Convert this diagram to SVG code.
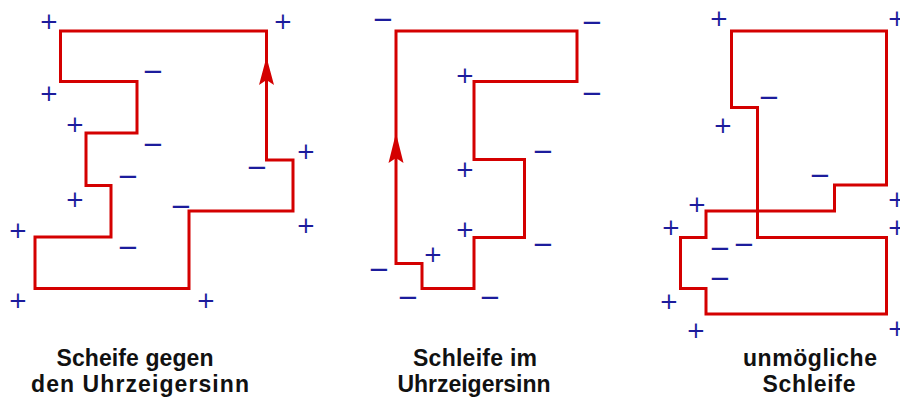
<svg xmlns="http://www.w3.org/2000/svg" width="900" height="399" viewBox="0 0 900 399">
<style>
.loop{fill:none;stroke:#d40000;stroke-width:3;stroke-linejoin:miter}
.arr{fill:#d40000;stroke:none}
.p,.m{fill:#1c1c9c;font-family:"DejaVu Sans",sans-serif;text-anchor:middle;dominant-baseline:central}
.p{font-size:23px}
.m{font-size:26px}
.cap{fill:#111;font-family:"Liberation Sans",Arial,sans-serif;font-weight:bold;font-size:23px;text-anchor:middle}
</style>
<rect width="900" height="399" fill="#fff"/>
<g id="loop1">
<path class="loop" d="M60.5,31 H266.5 V160 H293 V211 H189 V288.5 H35 V237 H111 V185.5 H86 V133 H137 V81.5 H60.5 Z"/>
<polygon class="arr" points="266.5,57 274,85 266.5,80 259,85"/>
<g class="p">
<text x="49" y="21">+</text><text x="283" y="21">+</text><text x="49" y="93">+</text><text x="75" y="124">+</text>
<text x="306" y="151">+</text><text x="75" y="199">+</text><text x="18" y="230">+</text><text x="306" y="225">+</text>
<text x="18" y="300">+</text><text x="206" y="300">+</text>
</g>
<g class="m">
<text x="153" y="71">−</text><text x="153" y="144">−</text><text x="128" y="176">−</text><text x="257" y="167">−</text>
<text x="181" y="206">−</text><text x="128" y="247">−</text>
</g>
<text class="cap" x="135" y="366" textLength="157">Scheife gegen</text>
<text class="cap" x="140" y="392" textLength="218">den Uhrzeigersinn</text>
</g>
<g id="loop2">
<path class="loop" d="M396,31 H577 V81.5 H474 V159.5 H524.5 V237.5 H474 V288.5 H422 V263.5 H396 Z"/>
<polygon class="arr" points="396,133 403.5,163 396,158 388.5,163"/>
<g class="m">
<text x="383" y="19">−</text><text x="592" y="22">−</text><text x="592" y="93">−</text><text x="543" y="151">−</text>
<text x="543" y="244">−</text><text x="379" y="269">−</text><text x="408" y="297">−</text><text x="490" y="297">−</text>
</g>
<g class="p">
<text x="465" y="75">+</text><text x="465" y="169">+</text><text x="465" y="229">+</text><text x="433" y="254">+</text>
</g>
<text class="cap" x="475" y="366" textLength="124">Schleife im</text>
<text class="cap" x="474" y="392" textLength="153">Uhrzeigersinn</text>
</g>
<g id="loop3">
<path class="loop" d="M731.5,31 H886.5 V185 H834.5 V211 H706 V237.5 H680.5 V288.5 H706 V314 H886.5 V237.5 H757.5 V107.5 H731.5 Z"/>
<g class="p">
<text x="719" y="18">+</text><text x="897" y="18">+</text><text x="723" y="125">+</text><text x="697" y="204">+</text>
<text x="671" y="227">+</text><text x="897" y="199">+</text><text x="897" y="227">+</text><text x="669" y="301">+</text>
<text x="696" y="330">+</text><text x="897" y="328">+</text>
</g>
<g class="m">
<text x="769" y="97">−</text><text x="820" y="175">−</text><text x="720" y="248">−</text><text x="744" y="244">−</text>
<text x="720" y="278">−</text>
</g>
<text class="cap" x="810" y="366" textLength="134">unmögliche</text>
<text class="cap" x="809" y="392" textLength="93">Schleife</text>
</g>
</svg>
